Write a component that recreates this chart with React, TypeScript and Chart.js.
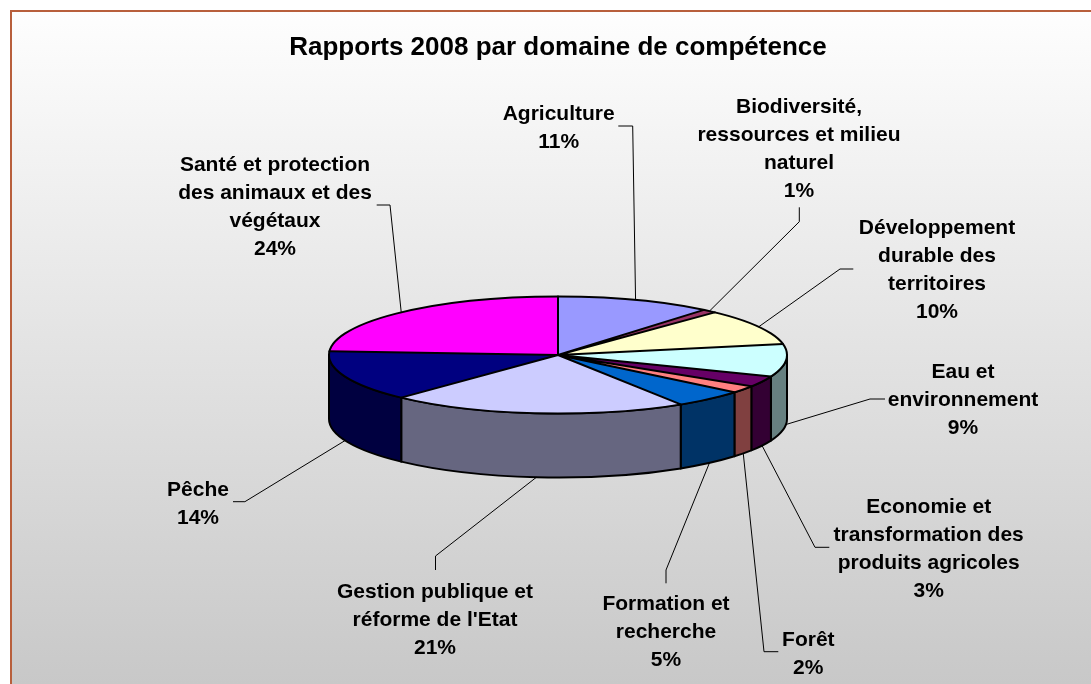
import { useEffect, useRef } from 'react';
import { Chart, registerables } from 'chart.js';

Chart.register(...registerables);

// ---------- data ----------
const TITLE = 'Rapports 2008 par domaine de compétence';

const CATEGORIES = [
  'Agriculture',
  'Biodiversité,\nressources et milieu\nnaturel',
  'Développement\ndurable des\nterritoires',
  'Eau et\nenvironnement',
  'Economie et\ntransformation des\nproduits agricoles',
  'Forêt',
  'Formation et\nrecherche',
  "Gestion publique et\nréforme de l'Etat",
  'Pêche',
  'Santé et protection\ndes animaux et des\nvégétaux',
];

const PERCENTAGES = [11, 1, 10, 9, 3, 2, 5, 21, 14, 24];

const TOP_COLORS = [
  '#9999FF',
  '#993366',
  '#FFFFCC',
  '#CCFFFF',
  '#660066',
  '#FF8080',
  '#0066CC',
  '#CCCCFF',
  '#000080',
  '#FF00FF',
];

// ---------- layout / style ----------
const W = 1091;
const H = 684;
const PIE_CX = 558;
const PIE_CY = 355;
const PIE_R = 229;
const TILT = 0.2555;
const DEPTH = 64;
const FONT = '"Liberation Sans", Arial, Helvetica, sans-serif';
const LABEL_SIZE = 21;
const LINE_H = 28;

// label centre (x) and first-line centre (y)
const LABEL_POS: [number, number][] = [
  [558.7, 112.7],
  [799, 105],
  [937, 226],
  [963, 370],
  [928.7, 505],
  [808.3, 638.3],
  [666, 602.3],
  [435, 590],
  [198, 488.3],
  [275, 163.3],
];
// leader line knee and end points
const LEADER_KNEE: [number, number][] = [
  [632.7, 126],
  [799.3, 221.7],
  [840, 269],
  [870, 399],
  [815, 547.3],
  [764, 651.7],
  [666, 570],
  [435.5, 556],
  [244.9, 501.7],
  [390, 205],
];
const LEADER_END: [number, number][] = [
  [618.3, 126],
  [799.3, 207.3],
  [853.3, 269],
  [885, 399],
  [829.3, 547.3],
  [778.3, 651.7],
  [666, 583.3],
  [435.5, 570],
  [233, 501.7],
  [376.7, 205],
];

function darken(hex: string, f = 0.5): string {
  const n = parseInt(hex.slice(1), 16);
  const r = Math.round(((n >> 16) & 255) * f);
  const g = Math.round(((n >> 8) & 255) * f);
  const b = Math.round((n & 255) * f);
  return `rgb(${r},${g},${b})`;
}

const pie3dPlugin = {
  id: 'pie3d',
  beforeDraw(chart: any) {
    const ctx: CanvasRenderingContext2D = chart.ctx;
    ctx.save();
    ctx.fillStyle = '#FFFFFF';
    ctx.fillRect(0, 0, W, H);
    const grad = ctx.createLinearGradient(0, 10, 0, H);
    grad.addColorStop(0, '#FEFEFE');
    grad.addColorStop(1, '#C8C8C8');
    ctx.fillStyle = grad;
    ctx.fillRect(10, 10, W - 10, H - 10);
    ctx.fillStyle = '#B85F3C';
    ctx.fillRect(10, 10, W - 10, 2);
    ctx.fillRect(10, 10, 2, H - 10);
    ctx.restore();
  },
  beforeDatasetsDraw(chart: any) {
    const ctx: CanvasRenderingContext2D = chart.ctx;
    const arcs = chart.getDatasetMeta(0).data as any[];
    if (arcs.length) {
      const R = arcs[0].outerRadius;
      const ry = R * TILT;
      ctx.save();
      ctx.lineWidth = 2;
      ctx.strokeStyle = '#000';
      ctx.lineJoin = 'round';
      arcs.forEach((arc, i) => {
        const a0 = Math.max(arc.startAngle, 0);
        const a1 = Math.min(arc.endAngle, Math.PI);
        if (a1 <= a0) return;
        ctx.beginPath();
        ctx.ellipse(PIE_CX, PIE_CY, R, ry, 0, a0, a1, false);
        ctx.ellipse(PIE_CX, PIE_CY + DEPTH, R, ry, 0, a1, a0, true);
        ctx.closePath();
        ctx.fillStyle = darken(TOP_COLORS[i]);
        ctx.fill();
        ctx.stroke();
      });
      ctx.restore();
    }
    ctx.save();
    if (arcs.length) {
      ctx.translate(PIE_CX, PIE_CY);
      ctx.scale(1, TILT);
      ctx.translate(-arcs[0].x, -arcs[0].y);
    }
  },
  afterDatasetsDraw(chart: any) {
    const ctx: CanvasRenderingContext2D = chart.ctx;
    ctx.restore();
    const arcs = chart.getDatasetMeta(0).data as any[];
    if (!arcs.length) return;
    const R = arcs[0].outerRadius;
    const ry = R * TILT;
    ctx.save();
    ctx.lineWidth = 2;
    ctx.strokeStyle = '#000';
    ctx.lineJoin = 'round';
    ctx.lineCap = 'round';
    ctx.beginPath();
    arcs.forEach((arc) => {
      ctx.moveTo(PIE_CX, PIE_CY);
      ctx.lineTo(PIE_CX + R * Math.cos(arc.startAngle), PIE_CY + ry * Math.sin(arc.startAngle));
    });
    ctx.stroke();
    ctx.beginPath();
    ctx.ellipse(PIE_CX, PIE_CY, R, ry, 0, 0, Math.PI * 2);
    ctx.stroke();
    ctx.restore();
  },
  afterDraw(chart: any) {
    const ctx: CanvasRenderingContext2D = chart.ctx;
    const arcs = chart.getDatasetMeta(0).data as any[];
    if (!arcs.length) return;
    const R = arcs[0].outerRadius;
    const ry = R * TILT;
    const total = PERCENTAGES.reduce((s, v) => s + v, 0);
    ctx.save();
    // leader lines
    ctx.strokeStyle = '#000';
    ctx.lineWidth = 1;
    arcs.forEach((arc, i) => {
      const mid = (arc.startAngle + arc.endAngle) / 2;
      const s = Math.sin(mid);
      const ax = PIE_CX + R * Math.cos(mid);
      const ay = PIE_CY + ry * s + (s > 0 ? DEPTH : 0);
      ctx.beginPath();
      ctx.moveTo(ax, ay);
      ctx.lineTo(LEADER_KNEE[i][0], LEADER_KNEE[i][1]);
      ctx.lineTo(LEADER_END[i][0], LEADER_END[i][1]);
      ctx.stroke();
    });
    // labels
    ctx.fillStyle = '#000';
    ctx.font = `bold ${LABEL_SIZE}px ${FONT}`;
    ctx.textAlign = 'center';
    ctx.textBaseline = 'alphabetic';
    CATEGORIES.forEach((cat, i) => {
      const lines = cat.split('\n');
      lines.push(`${Math.round((PERCENTAGES[i] / total) * 100)}%`);
      const [x, y] = LABEL_POS[i];
      lines.forEach((ln, k) => {
        ctx.fillText(ln, x, y + k * LINE_H + LABEL_SIZE * 0.36);
      });
    });
    ctx.restore();
  },
};

export default function App() {
  const canvasRef = useRef<HTMLCanvasElement | null>(null);

  useEffect(() => {
    const canvas = canvasRef.current;
    if (!canvas) return;
    const chart = new Chart(canvas, {
      type: 'pie',
      data: {
        labels: CATEGORIES.map((c) => c.replace(/\n/g, ' ')),
        datasets: [
          {
            data: PERCENTAGES,
            backgroundColor: TOP_COLORS,
            borderWidth: 0,
            hoverOffset: 0,
          },
        ],
      },
      options: {
        responsive: false,
        animation: false,
        events: [],
        radius: PIE_R,
        layout: { padding: { top: 10, left: 25, right: 0, bottom: 0 } },
        plugins: {
          legend: { display: false },
          tooltip: { enabled: false },
          title: {
            display: true,
            text: TITLE,
            color: '#000',
            font: { family: FONT, size: 26, weight: 'bold' },
            padding: { top: 22, bottom: 10 },
          },
        },
      } as any,
      plugins: [pie3dPlugin],
    });
    return () => chart.destroy();
  }, []);

  return (
    <div style={{ position: 'fixed', left: 0, top: 0, width: W, height: H, overflow: 'hidden', background: '#fff' }}>
      <canvas ref={canvasRef} width={W} height={H} style={{ display: 'block', width: W, height: H }} />
    </div>
  );
}
